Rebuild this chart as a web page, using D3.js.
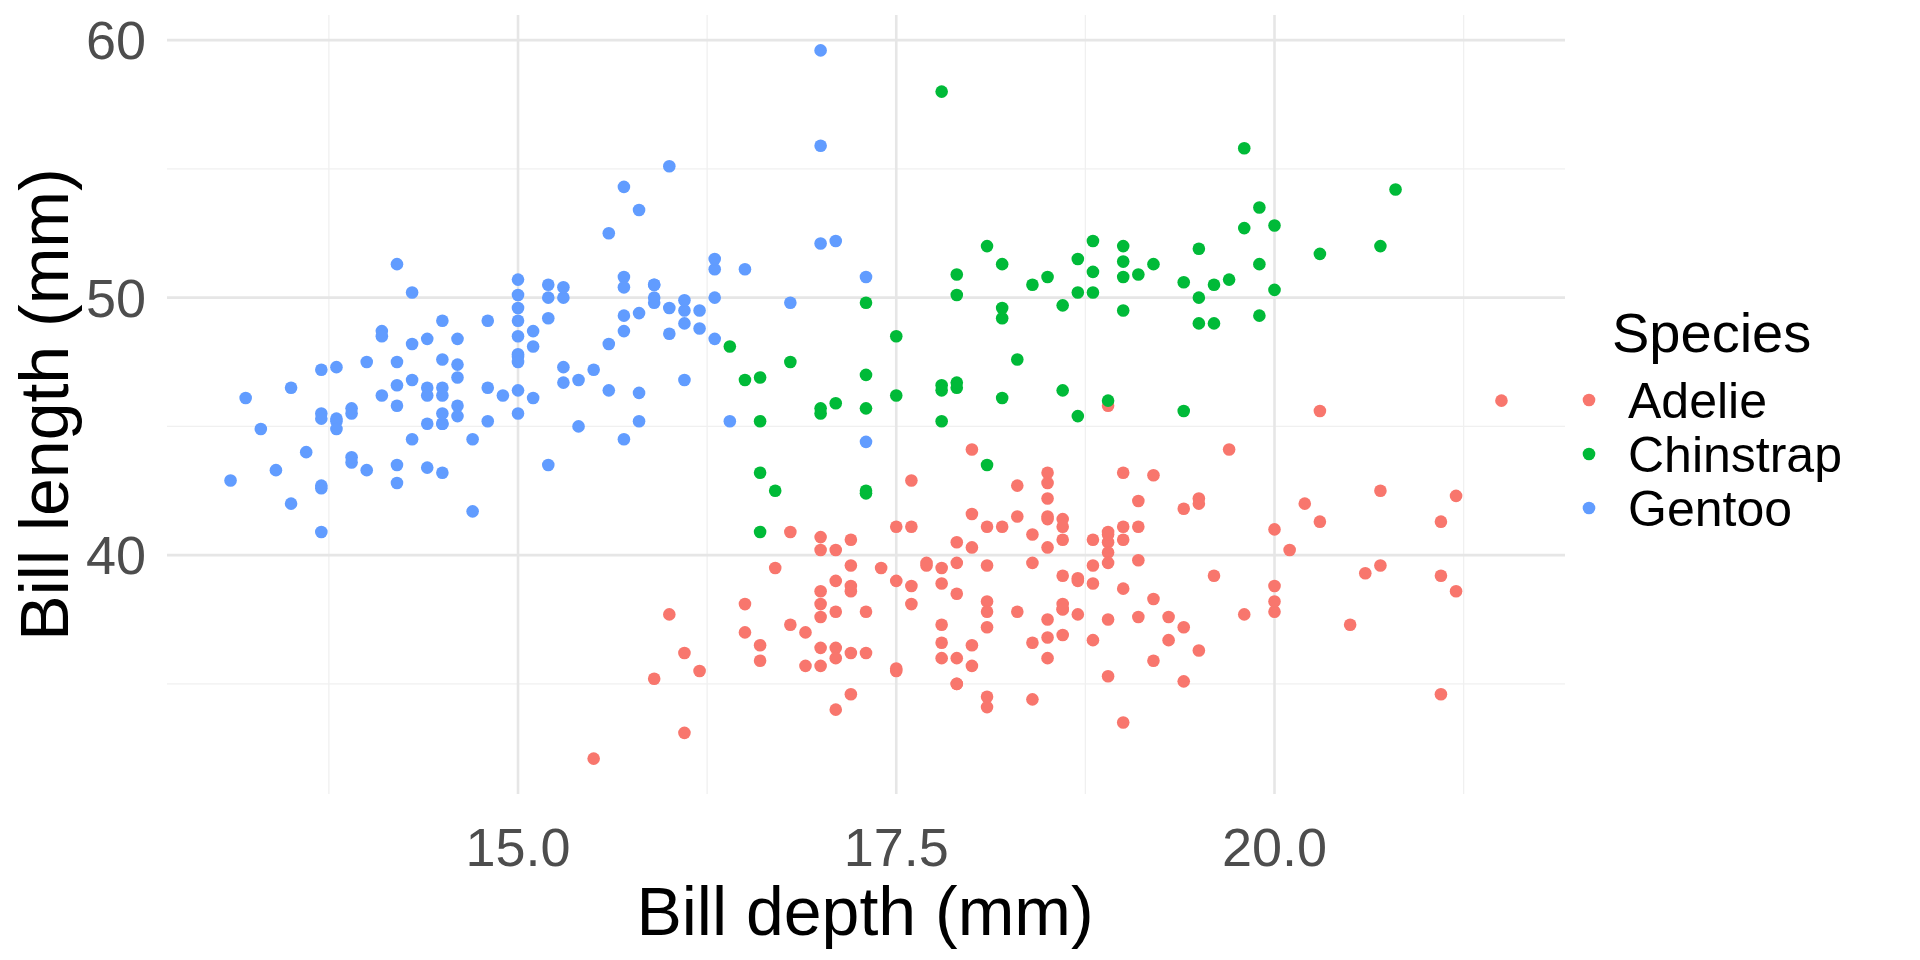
<!DOCTYPE html>
<html><head><meta charset="utf-8">
<script src="https://cdn.jsdelivr.net/npm/d3@7"></script>
<style>body{margin:0;background:#fff}svg{font-family:Arial,"Liberation Sans",sans-serif}</style>
</head><body><svg id="c" width="1920" height="960"></svg>
<script>
const species = ["Adelie","Chinstrap","Gentoo"];
const colors = ["#F8766D","#00BA38","#619CFF"];
const xTicks = [15,17.5,20];
const yTicks = [40,50,60];
const xMinor = [13.75,16.25,18.75,21.25];
const yMinor = [35,45,55];
// [bill_length, bill_depth]
const adelie = [[39.1,18.7],[39.5,17.4],[40.3,18],[36.7,19.3],[39.3,20.6],[38.9,17.8],[39.2,19.6],[34.1,18.1],[42,20.2],[37.8,17.1],[37.8,17.3],[41.1,17.6],[38.6,21.2],[34.6,21.1],[36.6,17.8],[38.7,19],[42.5,20.7],[34.4,18.4],[46,21.5],[37.8,18.3],[37.7,18.7],[35.9,19.2],[38.2,18.1],[38.8,17.2],[35.3,18.9],[40.6,18.6],[40.5,17.9],[37.9,18.6],[40.5,18.9],[39.5,16.7],[37.2,18.1],[39.5,17.8],[40.9,18.9],[36.4,17],[39.2,21.1],[38.8,20],[42.2,18.5],[37.6,19.3],[39.8,19.1],[36.5,18],[40.8,18.4],[36,18.5],[44.1,19.7],[37,16.9],[39.6,18.8],[41.1,19],[37.5,18.9],[36,17.9],[42.3,21.2],[39.6,17.7],[40.1,18.9],[35,17.9],[42,19.5],[34.5,18.1],[41.4,18.6],[39,17.5],[40.6,18.8],[36.5,16.6],[37.6,19.1],[35.7,16.9],[41.3,21.1],[37.6,17],[41.1,18.2],[36.4,17.1],[41.6,18],[35.5,16.2],[41.1,19.1],[35.9,16.6],[41.8,19.4],[33.5,19],[39.7,18.4],[39.6,17.2],[45.8,18.9],[35.5,17.5],[42.8,18.5],[40.9,16.8],[37.2,19.4],[36.2,16.1],[42.1,19.1],[34.6,17.2],[42.9,17.6],[36.7,18.8],[35.1,19.4],[37.3,17.8],[41.3,20.3],[36.3,19.5],[36.9,18.6],[38.3,19.2],[38.9,18.8],[35.7,18],[41.1,18.1],[34,17.1],[39.6,18.1],[36.2,17.3],[40.8,18.9],[38.1,18.6],[40.3,18.5],[33.1,16.1],[43.2,18.5],[35,17.9],[41,20],[37.7,16],[37.8,20],[37.9,18.6],[39.7,18.9],[38.6,17.2],[38.2,20],[38.1,17],[43.2,19],[38.1,16.5],[45.6,20.3],[39.7,17.7],[42.2,19.5],[39.6,20.7],[42.7,18.3],[38.6,17],[37.3,20.5],[35.7,17],[41.1,18.6],[36.2,17.2],[37.7,19.8],[40.2,17],[41.4,18.5],[35.2,15.9],[40.6,19],[38.8,17.6],[41.5,18.3],[39,17.1],[44.1,18],[38.5,17.9],[43.1,19.2],[36.8,18.5],[37.5,18.5],[38.1,17.6],[41.1,17.5],[35.6,17.5],[40.2,20.1],[37,16.5],[39.7,17.9],[40.2,17.1],[40.6,17.2],[32.1,15.5],[40.7,17],[37.3,16.8],[39,18.7],[39.2,18.6],[36.6,18.4],[36,17.8],[37.8,18.1],[36,17.1],[41.5,18.5]];
const chinstrap = [[46.5,17.9],[50,19.5],[51.3,19.2],[45.4,18.7],[52.7,19.8],[45.2,17.8],[46.1,18.2],[51.3,18.2],[46,18.9],[51.3,19.9],[46.6,17.8],[51.7,20.3],[47,17.3],[52,18.1],[45.9,17.1],[50.5,19.6],[50.3,20],[58,17.8],[46.4,18.6],[49.2,18.2],[42.4,17.3],[48.5,17.5],[43.2,16.6],[50.6,19.4],[46.7,17.9],[52,19],[50.5,18.4],[49.5,19],[46.4,17.8],[52.8,20],[40.9,16.6],[54.2,20.8],[42.5,16.7],[51,18.8],[49.7,18.6],[47.5,16.8],[47.6,18.3],[52,20.7],[46.9,16.6],[53.5,19.9],[49,19.5],[46.2,17.5],[50.9,19.1],[45.5,17],[50.9,17.9],[50.8,18.5],[50.1,17.9],[49,19.6],[51.5,18.7],[49.8,17.3],[48.1,16.4],[51.4,19],[45.7,17.3],[50.7,19.7],[42.5,17.3],[52.2,18.8],[45.2,16.6],[49.3,19.9],[50.2,18.8],[45.6,19.4],[51.9,19.5],[46.8,16.5],[45.7,17],[55.8,19.8],[43.5,18.1],[49.6,18.2],[50.8,19],[50.2,18.7]];
const gentoo = [[46.1,13.2],[50,16.3],[48.7,14.1],[50,15.2],[47.6,14.5],[46.5,13.5],[45.4,14.6],[46.7,15.3],[43.3,13.4],[46.8,15.4],[40.9,13.7],[49,16.1],[45.5,13.7],[48.4,14.6],[45.8,14.6],[49.3,15.7],[42,13.5],[49.2,15.2],[46.2,14.5],[48.7,15.1],[50.2,14.3],[45.1,14.5],[46.5,14.5],[46.3,15.8],[42.9,13.1],[46.1,15.1],[44.5,14.3],[47.8,15],[48.2,14.3],[50,15.3],[47.3,15.3],[42.8,14.2],[45.1,14.5],[59.6,17],[49.1,14.8],[48.4,16.3],[42.6,13.7],[44.4,17.3],[44,13.6],[48.7,15.7],[42.7,13.7],[49.6,16],[45.3,13.7],[49.6,15],[50.5,15.9],[43.6,13.9],[45.5,13.9],[50.5,15.9],[44.9,13.3],[45.2,15.8],[46.6,14.2],[48.5,14.1],[45.1,14.4],[50.1,15],[46.5,14.4],[45,15.4],[43.8,13.9],[45.5,15],[43.2,14.5],[50.4,15.3],[45.3,13.8],[46.2,14.9],[45.7,13.9],[54.3,15.7],[45.8,14.2],[49.8,16.8],[46.2,14.4],[49.5,16.2],[43.5,14.2],[50.7,15],[47.7,15],[46.4,15.6],[48.2,15.6],[46.5,14.8],[46.4,15],[48.6,16],[47.5,14.2],[51.1,16.3],[45.2,13.8],[45.2,16.4],[49.1,14.5],[52.5,15.6],[47.4,14.6],[50,15.9],[44.9,13.8],[50.8,17.3],[43.4,14.4],[51.3,14.2],[47.5,14],[52.1,17],[47.5,15],[52.2,17.1],[45.5,14.5],[49.5,16.1],[44.5,14.7],[50.8,15.7],[49.4,15.8],[46.9,14.6],[48.4,14.4],[51.1,16.5],[48.5,15],[55.9,17],[47.2,15.5],[49.1,15],[47.3,13.8],[46.8,16.1],[41.7,14.7],[53.4,15.8],[43.3,14],[48.1,15.1],[50.5,15.2],[49.8,15.9],[43.5,15.2],[51.5,16.3],[46.2,14.1],[55.1,16],[44.5,15.7],[48.8,16.2],[47.2,13.7],[46.8,14.3],[50.4,15.7],[45.2,14.8],[49.9,16.1]];
const seriesData = [adelie, chinstrap, gentoo];

const svg = d3.select("#c");
const L=167, R=1565, T=15, B=794;
const all = seriesData.flat();
const xe = d3.extent(all,d=>d[1]), ye = d3.extent(all,d=>d[0]);
const xp=(xe[1]-xe[0])*0.05, yp=(ye[1]-ye[0])*0.05;
const x = d3.scaleLinear().domain([xe[0]-xp,xe[1]+xp]).range([L,R]);
const y = d3.scaleLinear().domain([ye[0]-yp,ye[1]+yp]).range([B,T]);
const g = svg.append("g");
g.selectAll(".xm").data(xMinor).join("line").attr("x1",d=>x(d)).attr("x2",d=>x(d)).attr("y1",T).attr("y2",B).attr("stroke","#f0f0f0").attr("stroke-width",1.3);
g.selectAll(".ym").data(yMinor).join("line").attr("y1",d=>y(d)).attr("y2",d=>y(d)).attr("x1",L).attr("x2",R).attr("stroke","#f0f0f0").attr("stroke-width",1.3);
g.selectAll(".xM").data(xTicks).join("line").attr("x1",d=>x(d)).attr("x2",d=>x(d)).attr("y1",T).attr("y2",B).attr("stroke","#e6e6e6").attr("stroke-width",2.6);
g.selectAll(".yM").data(yTicks).join("line").attr("y1",d=>y(d)).attr("y2",d=>y(d)).attr("x1",L).attr("x2",R).attr("stroke","#e6e6e6").attr("stroke-width",2.6);
seriesData.forEach((s,i)=>{
  svg.append("g").selectAll("circle").data(s).join("circle")
    .attr("cx",d=>x(d[1])).attr("cy",d=>y(d[0])).attr("r",6.3).attr("fill",colors[i]);
});
svg.append("g").selectAll("text").data(xTicks).join("text").attr("x",d=>x(d)).attr("y",866)
  .attr("text-anchor","middle").attr("font-size",54).attr("fill","#4d4d4d").text(d=>d.toFixed(1));
svg.append("g").selectAll("text").data(yTicks).join("text").attr("x",146).attr("y",d=>y(d)+19)
  .attr("text-anchor","end").attr("font-size",54).attr("fill","#4d4d4d").text(d=>d);
svg.append("text").attr("x",865).attr("y",935).attr("text-anchor","middle").attr("font-size",68).text("Bill depth (mm)");
svg.append("text").attr("transform",`translate(68,${(T+B)/2}) rotate(-90)`).attr("text-anchor","middle").attr("font-size",68).text("Bill length (mm)");
svg.append("text").attr("x",1612).attr("y",352).attr("font-size",56).text("Species");
species.forEach((s,i)=>{
  const cy=400+i*54;
  svg.append("circle").attr("cx",1589).attr("cy",cy).attr("r",6.3).attr("fill",colors[i]);
  svg.append("text").attr("x",1628).attr("y",cy+18).attr("font-size",50).text(s);
});
</script></body></html>
